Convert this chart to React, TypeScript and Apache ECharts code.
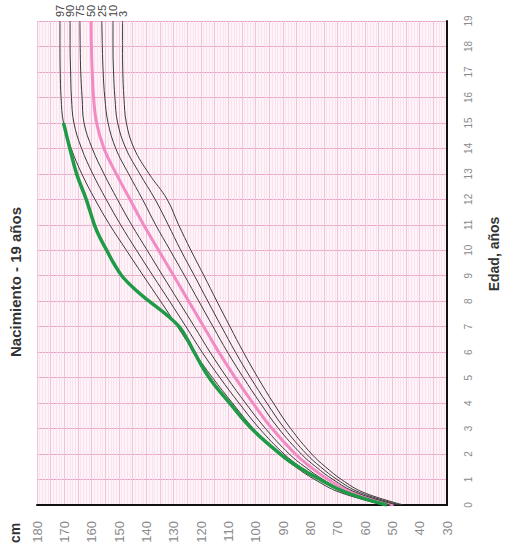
import React, { useEffect, useRef } from "react";
import * as echarts from "echarts";

// Age (years) at which percentile heights are read
const ages = [0, 0.5, 1, 1.5, 2, 3, 4, 5, 6, 7, 8, 9, 10, 11, 12, 13, 14, 15, 16, 17, 18, 19];

// Height percentiles (cm)
const p97 = [53.1, 69.3, 78.4, 85.5, 91.5, 100.8, 108.5, 115.8, 122.5, 128.6, 134.8, 141.1, 147.3, 153.4, 158.8, 163.6, 167.5, 170.3, 171.2, 171.5, 171.6, 171.6];
const p90 = [51.9, 67.9, 76.8, 83.7, 89.6, 98.6, 106.1, 113.1, 119.6, 125.5, 131.5, 137.6, 143.6, 149.4, 154.7, 159.6, 163.7, 166.5, 167.4, 167.7, 167.9, 167.9];
const p75 = [50.8, 66.6, 75.3, 82.0, 87.7, 96.4, 103.7, 110.5, 116.7, 122.4, 128.2, 134.0, 139.7, 145.4, 150.6, 155.5, 159.8, 162.8, 163.5, 164.0, 164.2, 164.3];
const p50 = [49.5, 65.0, 73.5, 80.0, 85.5, 94.0, 101.0, 107.5, 113.5, 119.0, 124.5, 130.0, 135.5, 141.0, 146.0, 151.0, 155.5, 158.2, 159.3, 159.8, 160.1, 160.2];
const p25 = [48.2, 63.4, 71.7, 78.0, 83.3, 91.6, 98.3, 104.5, 110.3, 115.6, 120.8, 126.0, 131.3, 136.6, 141.4, 146.5, 151.2, 154.0, 155.2, 155.8, 156.1, 156.3];
const p10 = [47.1, 62.1, 70.2, 76.3, 81.4, 89.4, 95.9, 101.9, 107.4, 112.5, 117.5, 122.4, 127.4, 132.0, 136.8, 142.4, 147.5, 150.5, 151.5, 152.0, 152.2, 152.2];
const p3 = [45.9, 60.7, 68.6, 74.5, 79.5, 87.2, 93.5, 99.2, 104.5, 109.4, 114.2, 118.9, 123.7, 128.2, 132.4, 139.0, 144.5, 147.3, 148.2, 148.6, 148.7, 148.7];

const percentileNames = ["97", "90", "75", "50", "25", "10", "3"];
const percentileValues = [p97, p90, p75, p50, p25, p10, p3];

// Patient measurements
const patientAges = [0, 0.5, 1, 1.5, 2, 3, 4, 5, 6, 6.5, 7, 7.5, 8, 8.5, 9, 9.5, 10, 10.5, 11, 12, 13, 14, 15];
const patientHeights = [52.0, 67.0, 76.5, 84.5, 91.0, 101.5, 109.5, 117.0, 122.5, 125.0, 128.0, 133.0, 139.0, 144.5, 149.0, 152.0, 154.5, 157.0, 159.0, 162.0, 165.5, 168.0, 170.3];

const cmMin = 30;
const cmMax = 180;
const ageMin = 0;
const ageMax = 19;

export default function App() {
  const ref = useRef<HTMLDivElement>(null);
  useEffect(() => {
    if (!ref.current) return;
    const chart = echarts.init(ref.current, null, { renderer: "svg" });
    const font = "Liberation Sans, Arial, sans-serif";
    const series: any[] = percentileValues.map((vals, i) => ({
      type: "line",
      name: percentileNames[i],
      data: ages.map((a, j) => [vals[j], a]),
      smooth: 0.4,
      showSymbol: false,
      symbol: "none",
      lineStyle: percentileNames[i] === "50"
        ? { color: "#f28ac4", width: 3 }
        : { color: "#3a3a3a", width: 1 },
      z: percentileNames[i] === "50" ? 3 : 4,
    }));
    series.push({
      type: "line",
      name: "patient",
      data: patientAges.map((a, j) => [patientHeights[j], a]),
      smooth: 0.4,
      showSymbol: false,
      symbol: "none",
      lineStyle: { color: "#1f9a46", width: 3.5 },
      z: 5,
    });
    const option: any = {
      animation: false,
      backgroundColor: "#ffffff",
      grid: {
        left: 37,
        right: 58,
        top: 21,
        bottom: 46,
        show: true,
        backgroundColor: "#fdf3f8",
        borderWidth: 0,
      },
      xAxis: [
        {
          type: "value",
          min: cmMin,
          max: cmMax,
          interval: 10,
          inverse: true,
          position: "bottom",
          axisLine: { show: true, onZero: false, lineStyle: { color: "#111", width: 2 } },
          axisTick: { show: false },
          axisLabel: { rotate: 90, color: "#8a8a8a", fontSize: 13, margin: 16, fontFamily: font },
          splitLine: { show: true, lineStyle: { color: "#e7a3c5", width: 1 } },
          minorTick: { show: false, splitNumber: 10 },
          minorSplitLine: { show: true, lineStyle: { color: "#f6dde9", width: 0.7 } },
        },
        {
          type: "value",
          min: cmMin,
          max: cmMax,
          interval: 5,
          inverse: true,
          position: "bottom",
          axisLine: { show: false },
          axisTick: { show: false },
          axisLabel: { show: false },
          splitLine: { show: true, lineStyle: { color: "#efc3d9", width: 1 } },
        },
      ],
      yAxis: {
        type: "value",
        min: ageMin,
        max: ageMax,
        interval: 1,
        position: "right",
        axisLine: { show: true, onZero: false, lineStyle: { color: "#111", width: 2 } },
        axisTick: { show: false },
        axisLabel: { rotate: 90, color: "#8a8a8a", fontSize: 10, margin: 16, fontFamily: font },
        splitLine: { show: true, lineStyle: { color: "#e7a3c5", width: 1 } },
      },
      series,
    };
    chart.setOption(option);

    const labelTexts = percentileValues.map((vals, i) => {
      const pt = chart.convertToPixel({ seriesIndex: i }, [vals[vals.length - 1], ages[ages.length - 1]]) as number[];
      return {
        type: "text",
        x: pt[0],
        y: pt[1] - 4,
        rotation: Math.PI / 2,
        style: {
          text: percentileNames[i],
          fill: "#444",
          font: `11px ${font}`,
          textAlign: "left",
          textVerticalAlign: "middle",
        },
      };
    });
    chart.setOption({
      graphic: [
        {
          type: "text",
          x: 15,
          y: 282,
          rotation: Math.PI / 2,
          style: {
            text: "Nacimiento - 19 años",
            fill: "#333",
            font: `bold 15px ${font}`,
            textAlign: "center",
            textVerticalAlign: "middle",
          },
        },
        {
          type: "text",
          x: 494,
          y: 254,
          rotation: Math.PI / 2,
          style: {
            text: "Edad, años",
            fill: "#333",
            font: `bold 14px ${font}`,
            textAlign: "center",
            textVerticalAlign: "middle",
          },
        },
        {
          type: "text",
          x: 15,
          y: 533,
          rotation: Math.PI / 2,
          style: {
            text: "cm",
            fill: "#333",
            font: `bold 14px ${font}`,
            textAlign: "center",
            textVerticalAlign: "middle",
          },
        },
        ...labelTexts,
      ],
    });
    return () => chart.dispose();
  }, []);
  return <div ref={ref} style={{ width: 505, height: 551, position: "absolute", left: 0, top: 0 }} />;
}
